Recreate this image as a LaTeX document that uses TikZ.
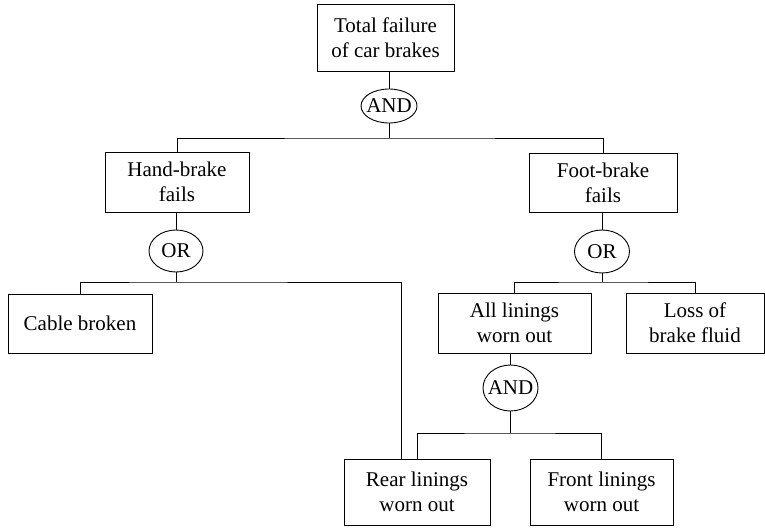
\documentclass[tikz,border=0pt]{standalone}
\usepackage{fontspec}
\setmainfont{Liberation Serif}
\usetikzlibrary{shapes.geometric}
\begin{document}
\begin{tikzpicture}[x=1pt,y=-1pt,
  line width=0.9pt,
  event/.style={draw, rectangle, align=center, inner sep=0pt,
    font=\fontsize{21}{25}\selectfont},
  gate/.style={draw, ellipse, inner sep=0pt,
    font=\fontsize{21}{25}\selectfont},
  link/.style={draw}]
\useasboundingbox (0,0) rectangle (765,527);

% events
\node[event, minimum width=137pt, minimum height=67pt] (top)   at (385.5,37.5) {Total failure\\of car brakes};
\node[event, minimum width=144pt, minimum height=60pt] (hand)  at (177,182)   {Hand-brake\\fails};
\node[event, minimum width=148pt, minimum height=59pt] (foot)  at (603,182.5) {Foot-brake\\fails};
\node[event, minimum width=144pt, minimum height=59pt] (cable) at (80,323.5)  {Cable broken};
\node[event, minimum width=153pt, minimum height=60pt] (all)   at (514.5,323) {All linings\\worn out};
\node[event, minimum width=138pt, minimum height=60pt] (loss)  at (695,323)   {Loss of\\brake fluid};
\node[event, minimum width=146pt, minimum height=66pt] (rear)  at (417,492)   {Rear linings\\worn out};
\node[event, minimum width=143pt, minimum height=66pt] (front) at (601.5,492) {Front linings\\worn out};

% gates
\node[gate, minimum width=56pt, minimum height=34pt] (and1) at (389,106)   {\makebox[0pt]{AND}};
\node[gate, minimum width=54pt, minimum height=42pt] (or1)  at (176,251)   {\makebox[0pt]{OR}};
\node[gate, minimum width=55pt, minimum height=43pt] (or2)  at (602,251.5) {\makebox[0pt]{OR}};
\node[gate, minimum width=55pt, minimum height=46pt] (and2) at (510.5,388) {\makebox[0pt]{AND}};

% bus levels
\coordinate (bus1) at (0,138);
\coordinate (bus2) at (0,282);
\coordinate (bus3) at (0,433);
\coordinate (rearin) at (401,459);

% top event and its AND gate
\draw[link] (top.south -| and1) -- (and1.north);
\draw[link] (and1.south) -- (and1.south |- bus1);
\draw[link] (hand.north) |- (and1.south |- bus1) -| (foot.north);

% hand-brake branch
\draw[link] (hand.south -| or1) -- (or1.north);
\draw[link] (or1.south) -- (or1.south |- bus2);
\draw[link] (cable.north) |- (or1.south |- bus2) -| (rearin);

% foot-brake branch
\draw[link] (foot.south -| or2) -- (or2.north);
\draw[link] (or2.south) -- (or2.south |- bus2);
\draw[link] (all.north) |- (or2.south |- bus2) -| (loss.north);

% linings branch
\draw[link] (all.south -| and2) -- (and2.north);
\draw[link] (and2.south) -- (and2.south |- bus3);
\draw[link] (rear.north) |- (and2.south |- bus3) -| (front.north);
\end{tikzpicture}
\end{document}
